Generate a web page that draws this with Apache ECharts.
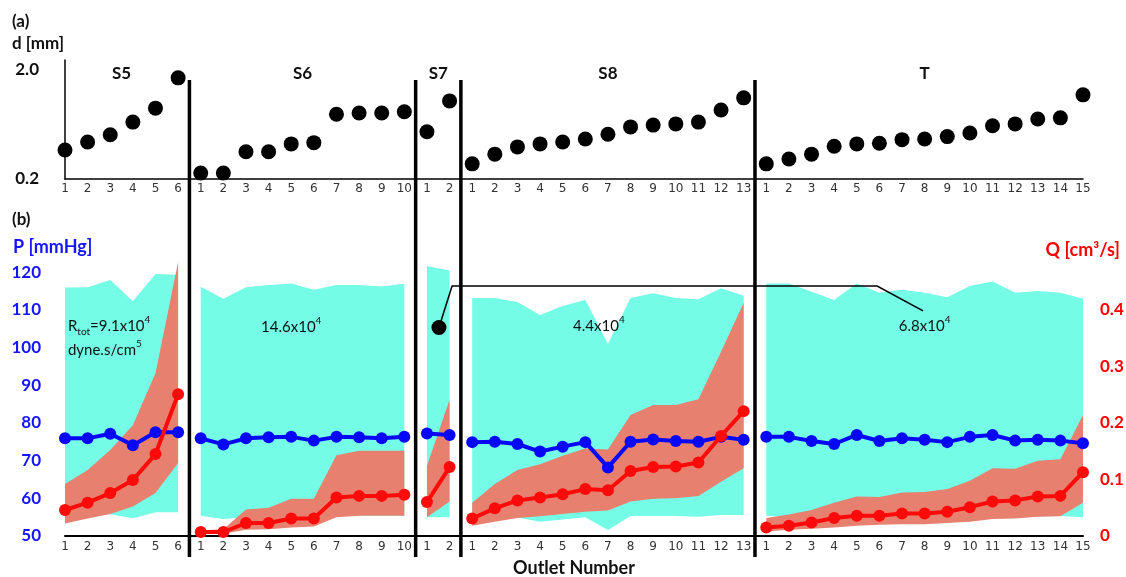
<!DOCTYPE html>
<html><head><meta charset="utf-8">
<script src="https://cdn.jsdelivr.net/npm/echarts@6/dist/echarts.min.js"></script>
<style>html,body{margin:0;padding:0;background:#fff}#c{width:1126px;height:577px}</style>
</head><body><div id="c"></div>
<script>
// ---------- data ----------
const groupNames = ['S5','S6','S7','S8','T'];
const tickLabels = ['1','2','3','4','5','6',
  '1','2','3','4','5','6','7','8','9','10',
  '1','2',
  '1','2','3','4','5','6','7','8','9','10','11','12','13',
  '1','2','3','4','5','6','7','8','9','10','11','12','13','14','15'];

// (a) diameter d [mm]
const dS5 = [0.68,0.81,0.93,1.14,1.37,1.87];
const dS6 = [0.30,0.30,0.65,0.65,0.78,0.80,1.27,1.29,1.29,1.31];
const dS7 = [0.98,1.49];
const dS8 = [0.45,0.61,0.73,0.78,0.81,0.86,0.94,1.06,1.09,1.11,1.14,1.34,1.54];
const dT  = [0.45,0.53,0.61,0.74,0.78,0.79,0.85,0.86,0.90,0.96,1.08,1.11,1.19,1.21,1.59];

// (b) pressure P [mmHg] mean, min, max
const pS5 = [75.9,75.9,77.1,74.1,77.5,77.5];
const pS6 = [75.9,74.3,75.9,76.2,76.3,75.3,76.3,76.2,75.9,76.3];
const pS7 = [77.2,76.8];
const pS8 = [74.9,75.0,74.4,72.4,73.7,74.9,68.2,75.0,75.6,75.2,75.0,76.3,75.5];
const pT  = [76.3,76.3,75.2,74.4,76.8,75.2,75.9,75.5,74.9,76.3,76.8,75.3,75.5,75.3,74.6];

const pLoS5 = [55.5,55.5,55.8,54.7,56.3,56.3];
const pHiS5 = [115.9,116.0,117.9,112.3,119.5,119.3];
const pLoS6 = [55.4,54.5,55.0,55.0,55.0,55.0,55.3,55.4,55.4,55.4];
const pHiS6 = [116.1,112.9,116.0,116.6,117.0,115.3,116.6,116.6,116.2,116.9];
const pLoS7 = [55.0,55.0];
const pHiS7 = [121.6,120.4];
const pLoS8 = [54.7,54.7,54.9,53.8,54.4,55.0,51.6,55.3,55.3,55.3,55.1,55.6,55.6];
const pHiS8 = [113.1,113.1,112.1,108.6,111.0,112.6,100.9,113.1,114.4,113.1,112.8,115.7,113.7];
const pLoT  = [55.3,55.2,55.2,55.2,55.2,55.2,55.2,55.2,55.2,55.2,55.2,55.2,55.2,55.3,55.0];
const pHiT  = [117.0,117.0,114.8,112.6,117.0,114.5,115.3,114.5,113.3,116.3,117.5,114.5,115.0,114.5,112.9];

// (b) flow Q [cm3/s] mean, min, max
const qS5 = [0.046,0.059,0.076,0.099,0.145,0.251];
const qS6 = [0.007,0.007,0.023,0.023,0.031,0.031,0.068,0.071,0.071,0.073];
const qS7 = [0.060,0.122];
const qS8 = [0.031,0.049,0.063,0.068,0.074,0.083,0.081,0.115,0.122,0.123,0.130,0.177,0.221];
const qT  = [0.015,0.018,0.024,0.032,0.036,0.036,0.040,0.040,0.043,0.051,0.061,0.063,0.070,0.071,0.113];

const qLoS5 = [0.022,0.031,0.039,0.052,0.076,0.129];
const qHiS5 = [0.092,0.117,0.152,0.196,0.288,0.485];
const qLoS6 = [0.005,0.004,0.011,0.012,0.015,0.017,0.033,0.036,0.036,0.036];
const qHiS6 = [0.010,0.012,0.047,0.050,0.066,0.066,0.143,0.151,0.151,0.151];
const qLoS7 = [0.033,0.061];
const qHiS7 = [0.124,0.241];
const qLoS8 = [0.018,0.025,0.032,0.035,0.039,0.043,0.045,0.061,0.066,0.067,0.071,0.096,0.120];
const qHiS8 = [0.059,0.092,0.117,0.127,0.142,0.155,0.153,0.214,0.232,0.232,0.242,0.326,0.413];
const qLoT  = [0.008,0.011,0.013,0.015,0.018,0.020,0.021,0.021,0.023,0.025,0.030,0.031,0.034,0.035,0.059];
const qHiT  = [0.032,0.038,0.046,0.059,0.070,0.069,0.077,0.078,0.083,0.098,0.120,0.119,0.133,0.136,0.214];

const pTicks = [50,60,70,80,90,100,110,120];
const qTicks = [0,0.1,0.2,0.3,0.4];
const dTicks = [0.2,2.0];

// annotations: [outlet index position, P value]
const annotations = [
  {i:0.13, p:105.7, text:'R{sub|tot}{n|=9.1x10}{sup|4}', align:'left'},
  {i:0.13, p:99.3,  text:'{n|dyne.s/cm}{sup|5}', align:'left'},
  {i:10.0, p:105.4, text:'{n|14.6x10}{sup|4}', align:'center'},
  {i:23.6, p:105.7, text:'{n|4.4x10}{sup|4}', align:'center'},
  {i:38.0, p:105.7, text:'{n|6.8x10}{sup|4}', align:'center'}
];
const calloutPath = [[16.53,105.3],[17.11,116.3],[35.9,116.3],[37.93,109.7]];

// ---------- build ----------
const CYAN = '#74FCE6', SALMON = '#E8806F', BLUE = '#0606F8', RED = '#FF0A0A';
const FONT = "Lato, 'Open Sans', sans-serif";
const groups = [
  {d:dS5,p:pS5,pLo:pLoS5,pHi:pHiS5,q:qS5,qLo:qLoS5,qHi:qHiS5},
  {d:dS6,p:pS6,pLo:pLoS6,pHi:pHiS6,q:qS6,qLo:qLoS6,qHi:qHiS6},
  {d:dS7,p:pS7,pLo:pLoS7,pHi:pHiS7,q:qS7,qLo:qLoS7,qHi:qHiS7},
  {d:dS8,p:pS8,pLo:pLoS8,pHi:pHiS8,q:qS8,qLo:qLoS8,qHi:qHiS8},
  {d:dT, p:pT, pLo:pLoT, pHi:pHiT, q:qT, qLo:qLoT, qHi:qHiT}
];
let off = 0;
groups.forEach((g,k)=>{ g.name = groupNames[k]; g.off = off; g.n = g.d.length; off += g.n; });
const N = off;
const cats = tickLabels.map((t,i)=>'c'+i);
function pad(g, arr){ const a = new Array(N).fill(null); arr.forEach((v,j)=>{ a[g.off+j] = v; }); return a; }

const series = [];
series.push({type:'scatter', xAxisIndex:0, yAxisIndex:0, data: groups.flatMap(g=>g.d),
  symbolSize:15, itemStyle:{color:'#000', opacity:1}, z:3});

groups.forEach((g,k)=>{
  series.push({type:'line', xAxisIndex:1, yAxisIndex:1, stack:'pb'+k, data:pad(g,g.pLo),
    showSymbol:false, symbol:'none', lineStyle:{width:0,opacity:0}, silent:true, z:1});
  series.push({type:'line', xAxisIndex:1, yAxisIndex:1, stack:'pb'+k, data:pad(g,g.pHi.map((v,j)=>v-g.pLo[j])),
    showSymbol:false, symbol:'none', lineStyle:{width:0,opacity:0}, areaStyle:{color:CYAN,opacity:1}, silent:true, z:1});
});
groups.forEach((g,k)=>{
  series.push({type:'line', xAxisIndex:1, yAxisIndex:2, stack:'qb'+k, data:pad(g,g.qLo),
    showSymbol:false, symbol:'none', lineStyle:{width:0,opacity:0}, silent:true, z:2});
  series.push({type:'line', xAxisIndex:1, yAxisIndex:2, stack:'qb'+k, data:pad(g,g.qHi.map((v,j)=>v-g.qLo[j])),
    showSymbol:false, symbol:'none', lineStyle:{width:0,opacity:0}, areaStyle:{color:SALMON,opacity:1}, silent:true, z:2});
});
groups.forEach(g=>{
  series.push({type:'line', xAxisIndex:1, yAxisIndex:1, data:pad(g,g.p), symbol:'circle', symbolSize:12,
    lineStyle:{width:4,color:BLUE}, itemStyle:{color:BLUE, opacity:1}, z:3});
});
groups.forEach(g=>{
  series.push({type:'line', xAxisIndex:1, yAxisIndex:2, data:pad(g,g.q), symbol:'circle', symbolSize:12,
    lineStyle:{width:4,color:RED}, itemStyle:{color:RED, opacity:1}, z:4});
});

const tickLabelStyle = {fontFamily:"'DejaVu Sans', Verdana, sans-serif", fontSize:12, color:'#333',
  formatter:(v,i)=>tickLabels[i]};

const chart = echarts.init(document.getElementById('c'), null, {renderer:'canvas'});
chart.setOption({
  animation:false,
  backgroundColor:'#fff',
  grid:[
    {left:65, right:43, top:60, height:119, outerBoundsMode:'none', containLabel:false},
    {left:65, right:43, top:258, height:278, outerBoundsMode:'none', containLabel:false}
  ],
  xAxis:[
    {type:'category', gridIndex:0, data:cats, boundaryGap:false,
      axisLine:{show:true, lineStyle:{color:'#000', width:1.5}}, axisTick:{show:false},
      axisLabel:Object.assign({margin:4, interval:0}, tickLabelStyle), splitLine:{show:false}},
    {type:'category', gridIndex:1, data:cats, boundaryGap:false,
      axisLine:{show:true, lineStyle:{color:'#000', width:2}}, axisTick:{show:false},
      axisLabel:Object.assign({margin:5, interval:0}, tickLabelStyle), splitLine:{show:false},
      name:'Outlet Number', nameLocation:'middle', nameGap:23,
      nameTextStyle:{fontFamily:FONT, fontWeight:'bold', fontSize:18, color:'#111'}}
  ],
  yAxis:[
    {type:'value', gridIndex:0, min:0.2, max:2.165,
      axisLine:{show:true, lineStyle:{color:'#000', width:1.5}}, axisTick:{show:false}, splitLine:{show:false},
      axisLabel:{customValues:dTicks, margin:26, fontFamily:FONT, fontWeight:'bold', fontSize:17, color:'#111',
        formatter:v=>v.toFixed(1)}},
    {type:'value', gridIndex:1, min:50, max:123.74,
      axisLine:{show:false}, axisTick:{show:false}, splitLine:{show:false},
      axisLabel:{customValues:pTicks, margin:24, fontFamily:FONT, fontWeight:'bold', fontSize:17, color:'#1515FF'}},
    {type:'value', gridIndex:1, position:'right', min:0, max:0.492,
      axisLine:{show:false}, axisTick:{show:false}, splitLine:{show:false},
      axisLabel:{customValues:qTicks, margin:17, fontFamily:FONT, fontWeight:'bold', fontSize:17, color:'#FF0000',
        formatter:v=>v===0?'0':v.toFixed(1)}}
  ],
  series:series
});

// ---------- annotations placed through the axes ----------
const x0 = chart.convertToPixel({xAxisIndex:1}, cats[0]);
const x1 = chart.convertToPixel({xAxisIndex:1}, cats[N-1]);
const step = (x1-x0)/(N-1);
const xPix = i => x0 + i*step;
const yP = v => chart.convertToPixel({yAxisIndex:1}, v);

const graphic = [];
for (let k=0;k<groups.length-1;k++){
  const x = xPix(groups[k].off + groups[k].n - 0.5);
  graphic.push({type:'line', shape:{x1:x, y1:80, x2:x, y2:557}, style:{stroke:'#000', lineWidth:3.5}, z:100});
}
groups.forEach(g=>{
  graphic.push({type:'text', x:xPix(g.off+(g.n-1)/2), y:74,
    style:{text:g.name, font:"bold 17px "+FONT, fill:'#111', align:'center', verticalAlign:'middle'}, z:100});
});
const cp = calloutPath.map(([i,p])=>[xPix(i), yP(p)]);
graphic.push({type:'polyline', shape:{points:cp}, style:{stroke:'#000', lineWidth:1.5, fill:null}, z:100});
graphic.push({type:'circle', shape:{cx:cp[0][0], cy:cp[0][1], r:7.5}, style:{fill:'#000'}, z:101});
const rich = {
  n:{fontFamily:FONT, fontSize:15, fill:'#111', lineHeight:22, verticalAlign:'middle'},
  sup:{fontFamily:FONT, fontSize:10, fill:'#111', lineHeight:12, verticalAlign:'top'},
  sub:{fontFamily:FONT, fontSize:10, fill:'#111', lineHeight:12, verticalAlign:'bottom'}
};
annotations.forEach(a=>{
  let t = a.text.replace(/^R\{/, '{n|R}{');
  graphic.push({type:'text', x:xPix(a.i), y:yP(a.p),
    style:{text:t, rich:rich, align:a.align, verticalAlign:'middle', font:"15px "+FONT, fill:'#111'}, z:100});
});
const bold = (s, c, size) => ({font:"bold "+size+"px "+FONT, fill:c, text:s, verticalAlign:'middle'});
graphic.push({type:'text', x:12, y:22, style:bold('(a)','#111',17)});
graphic.push({type:'text', x:12, y:44, style:bold('d [mm]','#111',17)});
graphic.push({type:'text', x:12, y:220, style:bold('(b)','#111',17)});
graphic.push({type:'text', x:13, y:247, style:bold('P [mmHg]','#1515FF',18)});
graphic.push({type:'text', x:1120, y:250, style:Object.assign(bold('Q [cm³/s]','#FF0000',18),{align:'right'})});

chart.setOption({graphic:graphic});
</script>
</body></html>
